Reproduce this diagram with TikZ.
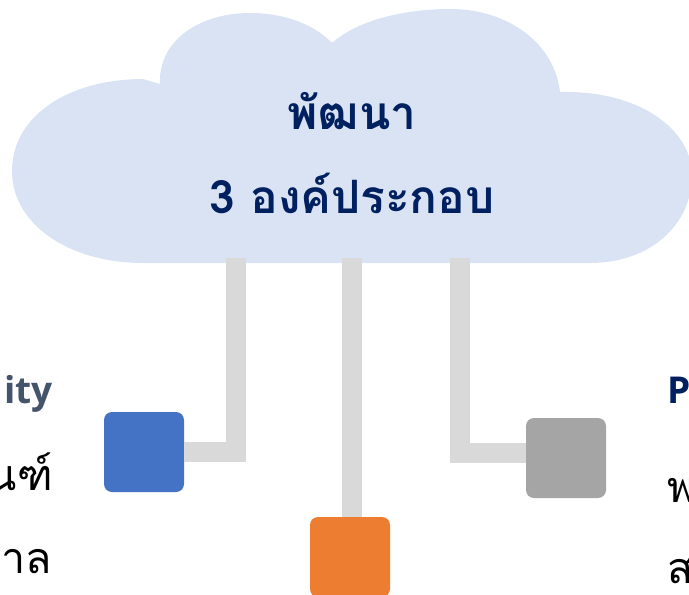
\documentclass[tikz,border=0pt]{standalone}
\usepackage{fontspec}
\newfontfamily\thaifont[Script=Thai]{Loma}
\newfontfamily\latinfont{Open Sans}[BoldFont={Open Sans Bold}]
\usetikzlibrary{positioning}

\definecolor{cloudfill}{HTML}{DAE3F3}
\definecolor{linkgray}{HTML}{D9D9D9}
\definecolor{darkblue}{HTML}{002060}
\definecolor{slate}{HTML}{44546A}
\definecolor{boxblue}{HTML}{4472C4}
\definecolor{boxorange}{HTML}{ED7D31}
\definecolor{boxgray}{HTML}{A5A5A5}

\tikzset{
  box/.style={rounded corners=8pt,minimum width=80pt,minimum height=80pt,inner sep=0pt},
  link/.style={draw=linkgray,line width=20pt,line join=miter},
  edgetext/.style={inner sep=0pt,font=\thaifont\fontsize{43}{43}\selectfont},
  edgehead/.style={inner sep=0pt,font=\latinfont\bfseries\fontsize{37}{37}\selectfont},
}

\begin{document}
\begin{tikzpicture}[x=1pt,y=-1pt]
  \useasboundingbox (0,0) rectangle (689,595);
  \clip (0,0) rectangle (689,595);
  % cloud
  \fill[cloudfill] (160,84) .. controls (158,40) and (200,13) .. (250,13)
    .. controls (290,13) and (318,28) .. (332,43)
    .. controls (360,18) and (410,9) .. (450,9)
    .. controls (510,9) and (555,45) .. (560,92)
    .. controls (640,90) and (692,130) .. (692,175)
    .. controls (692,225) and (650,263) .. (590,263)
    -- (143,263)
    .. controls (70,263) and (12,225) .. (12,171)
    .. controls (12,115) and (70,79) .. (143,79) -- cycle;
  \node[align=center,text=darkblue,font=\thaifont\bfseries\fontsize{46}{84}\selectfont] (title) at (352,153) {พัฒนา\\3 องค์ประกอบ};
  % boxes
  \node[box,fill=boxblue] (b1) at (144,452) {};
  \node[box,fill=boxorange] (b2) at (350,557) {};
  \node[box,fill=boxgray] (b3) at (566,458) {};
  \coordinate (c1) at (236,258);
  \coordinate (c2) at (352,258);
  \coordinate (c3) at (460,258);
  \draw[link] (c1) |- (b1);
  \draw[link] (c2) -- (c2 |- b2.north);
  \draw[link] (c3) |- ([yshift=5pt]b3.west);
  % side texts
  \node[edgehead,anchor=base east,text=slate] (l1) at (53,403) {ity};
  \node[edgetext,anchor=base east] (l2) at (53,490) {ณฑ์};
  \node[edgetext,anchor=base east] (l3) at (52,573) {าล};
  \node[edgehead,anchor=base west,text=darkblue] (r1) at (667,403) {P};
  \node[edgetext,anchor=base west] (r2) at (667,502) {พ};
  \node[edgetext,anchor=base west] (r3) at (667,583) {ส};
\end{tikzpicture}
\end{document}
